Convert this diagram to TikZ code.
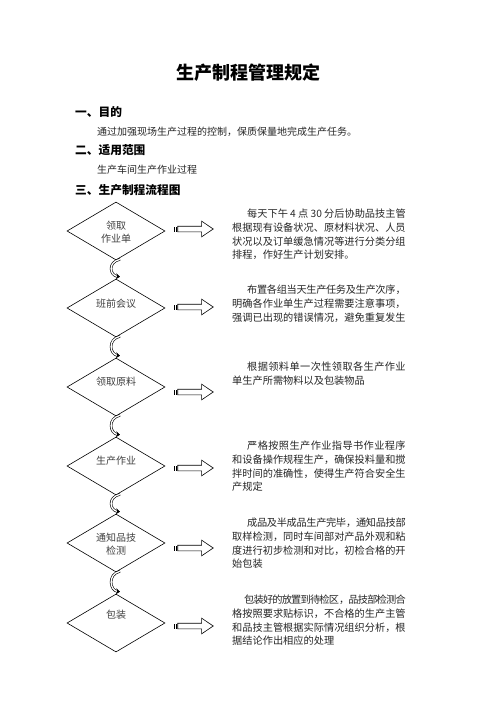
\documentclass[tikz,border=0pt]{standalone}
\usepackage{fontspec}
\setmainfont{Noto Sans CJK SC}
\usetikzlibrary{shapes.geometric,shapes.arrows,arrows.meta}
\XeTeXlinebreaklocale "zh"
\XeTeXlinebreakskip=0pt plus 1.5pt minus 1.2pt
\XeTeXlinebreakpenalty=10000
\begin{document}
\begin{tikzpicture}[x=1pt,y=-1pt,
  titletxt/.style={inner sep=0pt,font=\fontsize{18pt}{20pt}\selectfont\bfseries},
  headtxt/.style={anchor=west,inner sep=0pt,font=\fontsize{11.7pt}{13pt}\selectfont\bfseries},
  introtxt/.style={anchor=west,inner sep=0pt,font=\fontsize{10pt}{12pt}\selectfont,text=black!85},
  dia/.style={diamond,draw,line width=0.6pt,minimum width=98pt,minimum height=58pt,inner sep=0pt},
  diatxt/.style={inner sep=0pt,align=center,font=\fontsize{10pt}{13pt}\selectfont,text=black!75},
  blk/.style={anchor=north west,inner sep=0pt,text width=173.5pt,align=justify,font=\fontsize{10.2pt}{13.7pt}\selectfont,text=black!85},
  barrow/.style={single arrow,draw,line width=0.6pt,inner sep=2.5pt,single arrow head extend=5pt,single arrow tip angle=68,minimum height=35.5pt},
  squig/.style={line width=0.6pt,double=white,double distance=1.3pt,-{Stealth[length=4pt,width=6pt]}},
]
\useasboundingbox (0,0) rectangle (496,702);
\fill[white] (0,0) rectangle (496,702);

\node[titletxt] (title) at (248,73) {生产制程管理规定};
\node[headtxt] (h1) at (75,112) {一、目的};
\node[introtxt] (p1) at (97,132) {通过加强现场生产过程的控制，保质保量地完成生产任务。};
\node[headtxt] (h2) at (75,150) {二、适用范围};
\node[introtxt] (p2) at (97,170) {生产车间生产作业过程};
\node[headtxt] (h3) at (75,190) {三、生产制程流程图};

% diamonds
\node[dia] (d1) at (116,231) {};
\node[dia] (d2) at (116,308) {};
\node[dia] (d3) at (116,387) {};
\node[dia] (d4) at (116,466) {};
\node[dia] (d5) at (116,543) {};
\node[dia] (d6) at (116,623) {};

\node[diatxt] (t1) at ([yshift=-1pt]d1.center) {领取\\作业单};
\node[diatxt] (t2) at ([yshift=4pt]d2.center) {班前会议};
\node[diatxt] (t3) at ([yshift=5pt]d3.center) {领取原料};
\node[diatxt] (t4) at ([yshift=5pt]d4.center) {生产作业};
\node[diatxt] (t5) at ([yshift=-1pt]d5.center) {通知品技\\检测};
\node[diatxt] (t6) at ([yshift=8pt]d6.center) {包装};

% curly connectors
\foreach \a/\b in {d1/d2,d2/d3,d3/d4,d4/d5,d5/d6}{
  \draw[squig] ([xshift=4pt,yshift=1pt]\a.south) .. controls +(-13,3) and +(-10,-1) .. ([xshift=4pt,yshift=2pt]\b.north);
}

% block arrows
\foreach \n/\y in {1/229,2/307,3/392,4/468,5/548,6/626}{
  \node[barrow] (a\n) at (193.4,\y) {};
  \fill ([xshift=-3.6pt,yshift=-2.5pt]a\n.west) rectangle ([xshift=-2.6pt,yshift=2.5pt]a\n.west);
  \fill ([xshift=-1.9pt,yshift=-2.5pt]a\n.west) rectangle ([xshift=-0.6pt,yshift=2.5pt]a\n.west);
}

% text blocks
\node[blk] (b1) at (232,209) {\hspace*{15pt}每天下午~4~点~30~分后协助品技主管\linebreak
根据现有设备状况、原材料状况、人员\linebreak
状况以及订单缓急情况等进行分类分组\linebreak
排程，作好生产计划安排。};
\node[blk] (b2) at (232,285) {\hspace*{15pt}布置各组当天生产任务及生产次序，\linebreak
明确各作业单生产过程需要注意事项，\linebreak
强调已出现的错误情况，避免重复发生};
\node[blk] (b3) at (232,362) {\hspace*{15pt}根据领料单一次性领取各生产作业\linebreak
单生产所需物料以及包装物品};
\node[blk] (b4) at (232,441) {\hspace*{15pt}严格按照生产作业指导书作业程序\linebreak
和设备操作规程生产，确保投料量和搅\linebreak
拌时间的准确性，使得生产符合安全生\linebreak
产规定};
\node[blk] (b5) at (232,518) {\hspace*{15pt}成品及半成品生产完毕，通知品技部\linebreak
取样检测，同时车间部对产品外观和粘\linebreak
度进行初步检测和对比，初检合格的开\linebreak
始包装};
\node[blk] (b6) at (232,595) {\hspace*{12pt}包装好的放置到待检区，品技部检测合\linebreak
格按照要求贴标识，不合格的生产主管\linebreak
和品技主管根据实际情况组织分析，根\linebreak
据结论作出相应的处理};
\end{tikzpicture}
\end{document}
